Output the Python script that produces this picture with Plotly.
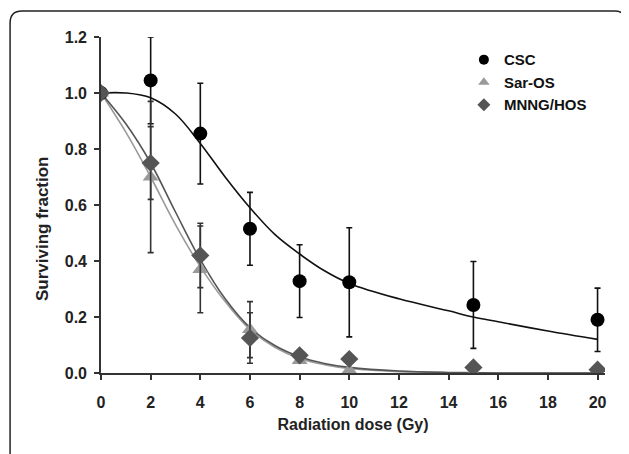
import plotly.graph_objects as go

# Measured points
dose = [0, 2, 4, 6, 8, 10, 15, 20]
csc = [1.0, 1.045, 0.855, 0.515, 0.328, 0.324, 0.243, 0.19]
csc_err = [0.0, 0.155, 0.18, 0.13, 0.13, 0.195, 0.155, 0.113]
sar = [1.0, 0.70, 0.37, 0.155, 0.045, 0.01, 0.0, 0.0]
sar_err = [0.0, 0.27, 0.155, 0.10, 0.0, 0.0, 0.0, 0.0]
mnng = [1.0, 0.75, 0.42, 0.125, 0.063, 0.05, 0.02, 0.012]
mnng_err = [0.0, 0.13, 0.115, 0.09, 0.0, 0.0, 0.0, 0.0]

# Fitted curves
fit_x = [0, 1, 2, 3, 4, 5, 6, 7, 8, 9, 10, 12, 14, 15, 16, 18, 20]
csc_fit = [1.0, 1.0, 0.983, 0.925, 0.82, 0.70, 0.59, 0.495, 0.425, 0.365, 0.32, 0.265, 0.222, 0.2, 0.183, 0.15, 0.12]
sar_fit = [1.0, 0.86, 0.70, 0.53, 0.38, 0.255, 0.155, 0.092, 0.052, 0.03, 0.016, 0.005, 0.001, 0.0, 0.0, 0.0, 0.0]
mnng_fit = [1.0, 0.89, 0.75, 0.575, 0.405, 0.265, 0.162, 0.098, 0.058, 0.034, 0.02, 0.007, 0.002, 0.001, 0.0, 0.0, 0.0]

series_names = ["CSC", "Sar-OS", "MNNG/HOS"]
tick_x = list(range(0, 21, 2))
tick_y = [0, 0.2, 0.4, 0.6, 0.8, 1.0, 1.2]
tick_y_text = ["0.0", "0.2", "0.4", "0.6", "0.8", "1.0", "1.2"]

FONT = "Liberation Sans, Arial, sans-serif"
TXT = "#222222"

fig = go.Figure()

fig.add_trace(go.Scatter(x=fit_x, y=sar_fit, mode="lines", line=dict(color="#9a9a9a", width=1.6, shape="spline"),
                         showlegend=False, hoverinfo="skip"))
fig.add_trace(go.Scatter(x=fit_x, y=mnng_fit, mode="lines", line=dict(color="#555555", width=1.6, shape="spline"),
                         showlegend=False, hoverinfo="skip"))
fig.add_trace(go.Scatter(x=fit_x, y=csc_fit, mode="lines", line=dict(color="#111111", width=1.6, shape="spline"),
                         showlegend=False, hoverinfo="skip"))

specs = [
    (csc, csc_err, "circle", 14, "#000000", "#111111", 10),
    (sar, sar_err, "triangle-up", 14, "#9a9a9a", "#333333", 10),
    (mnng, mnng_err, "diamond", 14, "#555555", "#333333", 10),
]
for name, (vals, errs, sym, sz, col, ecol, lsz) in zip(series_names, specs):
    fig.add_trace(go.Scatter(x=dose, y=vals, mode="markers", name=name, showlegend=False,
                             marker=dict(symbol=sym, size=sz, color=col),
                             error_y=dict(type="data", array=errs, visible=True, color=ecol,
                                          thickness=1.6, width=3)))
for name, (vals, errs, sym, sz, col, ecol, lsz) in zip(series_names, specs):
    # legend-only entries with the smaller legend symbols
    fig.add_trace(go.Scatter(x=[None], y=[None], mode="markers", name=name,
                             marker=dict(symbol=sym, size=lsz, color=col)))

# rounded frame around the figure
x0, x1, y0, y1 = -0.1804, 1.0426, -0.27, 1.0774
rx, ry = 12 / 504.5, 12 / 336
path = (f"M {x0},{y0} L {x0},{y1-ry} Q {x0},{y1} {x0+rx},{y1} "
        f"L {x1-rx},{y1} Q {x1},{y1} {x1},{y1-ry} L {x1},{y0}")
fig.add_shape(type="path", xref="paper", yref="paper", path=path,
              line=dict(color="#222222", width=1.5))

fig.add_annotation(text="Surviving fraction", xref="paper", yref="paper", x=-0.115, y=0.4286,
                   textangle=-90, xanchor="center", yanchor="middle", showarrow=False,
                   font=dict(size=17, family=FONT, color=TXT, weight="bold"))

fig.update_layout(
    width=621, height=446,
    margin=dict(l=93, r=23.5, t=29, b=81),
    paper_bgcolor="white", plot_bgcolor="white",
    font=dict(family=FONT, color=TXT),
    legend=dict(x=0.72, y=0.981, xanchor="left", yanchor="top",
                font=dict(size=15, family=FONT, color="#111111", weight="bold"),
                itemwidth=30, tracegroupgap=0, bgcolor="rgba(0,0,0,0)"),
    xaxis=dict(range=[0, 20.3], tickmode="array", tickvals=tick_x,
               showgrid=False, zeroline=False, showline=True, linecolor="#333333", linewidth=1.6,
               ticks="outside", ticklen=5, tickwidth=1.6, tickcolor="#333333", ticklabelstandoff=9,
               tickfont=dict(size=16, family=FONT, color=TXT, weight="bold"),
               title=dict(text="Radiation dose (Gy)", font=dict(size=16, family=FONT, color=TXT, weight="bold"),
                          standoff=9)),
    yaxis=dict(range=[0, 1.2], tickmode="array", tickvals=tick_y, ticktext=tick_y_text,
               showgrid=False, zeroline=False, showline=True, linecolor="#333333", linewidth=1.6,
               ticks="outside", ticklen=5, tickwidth=1.6, tickcolor="#333333", ticklabelstandoff=4,
               tickfont=dict(size=16, family=FONT, color=TXT, weight="bold")),
)

fig.write_html("out.html")
